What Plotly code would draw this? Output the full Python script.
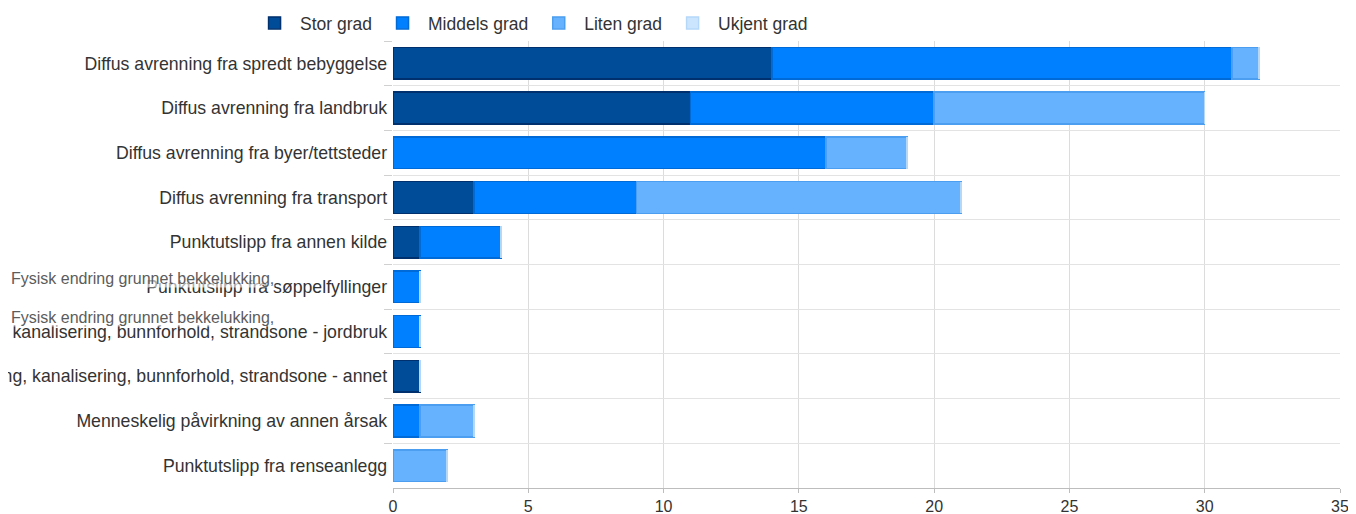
import plotly.graph_objects as go

categories = [
    "Diffus avrenning fra spredt bebyggelse",
    "Diffus avrenning fra landbruk",
    "Diffus avrenning fra byer/tettsteder",
    "Diffus avrenning fra transport",
    "Punktutslipp fra annen kilde",
    "Punktutslipp fra søppelfyllinger",
    "Fysisk endring grunnet bekkelukking, kanalisering, bunnforhold, strandsone - jordbruk",
    "Fysisk endring grunnet bekkelukking, kanalisering, bunnforhold, strandsone - annet",
    "Menneskelig påvirkning av annen årsak",
    "Punktutslipp fra renseanlegg",
]
stor = [14, 11, 0, 3, 1, 0, 0, 1, 0, 0]
middels = [17, 9, 16, 6, 3, 1, 1, 0, 1, 0]
liten = [1, 10, 3, 12, 0, 0, 0, 0, 2, 2]
ukjent = [0, 0, 0, 0, 0, 0, 0, 0, 0, 0]
overlay_text = "Fysisk endring grunnet bekkelukking,"

series = [
    ("Stor grad", stor, "#004C99", "#00306E"),
    ("Middels grad", middels, "#0080FF", "#006AD6"),
    ("Liten grad", liten, "#66B2FF", "#4C9EF0"),
    ("Ukjent grad", ukjent, "#CCE5FF", "#B5D8FA"),
]

FONT = "Liberation Sans, Arial, sans-serif"

fig = go.Figure()
for name, vals, fill, line in series:
    fig.add_trace(go.Bar(
        y=categories, x=vals, name=name, orientation="h",
        marker=dict(color=fill, line=dict(color=line, width=1.5)),
    ))

fig.update_layout(
    barmode="stack",
    bargap=0.29,
    width=1348, height=506,
    margin=dict(l=385, r=16, t=33, b=26, autoexpand=False),
    paper_bgcolor="white", plot_bgcolor="white",
    font=dict(family=FONT, size=17.5, color="#333333"),
    legend=dict(orientation="h", x=-0.152, xanchor="left", y=1.0, yanchor="bottom",
                traceorder="normal",
                font=dict(size=17.5, color="#333333"), itemwidth=41,
                bgcolor="rgba(0,0,0,0)"),
    showlegend=True,
)
fig.update_xaxes(
    range=[0, 35], dtick=5, tick0=0, automargin=False,
    showgrid=True, gridcolor="#dcdcdc", gridwidth=1,
    zeroline=False, showline=True, linecolor="#bdbdbd",
    ticks="outside", ticklen=4, tickcolor="#bdbdbd",
    tickfont=dict(size=16, color="#333333"),
)
fig.update_yaxes(
    categoryorder="array", categoryarray=categories, autorange="reversed",
    automargin=False,
    tickson="boundaries", showgrid=True, gridcolor="#e3e3e3",
    ticks="outside", ticklen=8, tickcolor="#d0d0d0",
    showline=False, zeroline=False,
    tickfont=dict(size=17.7, color="#333333"), ticksuffix=" ",
)

for yc, ys in [(categories[5], 8), (categories[6], 14)]:
    fig.add_annotation(
        x=0, xref="paper", xshift=-383, xanchor="left",
        y=yc, yref="y", yshift=ys,
        text=overlay_text, showarrow=False,
        font=dict(family=FONT, size=16, color="#5c5c5c"),
        bgcolor="rgba(255,255,255,0.6)", borderpad=0,
    )

fig.write_html("out.html")
